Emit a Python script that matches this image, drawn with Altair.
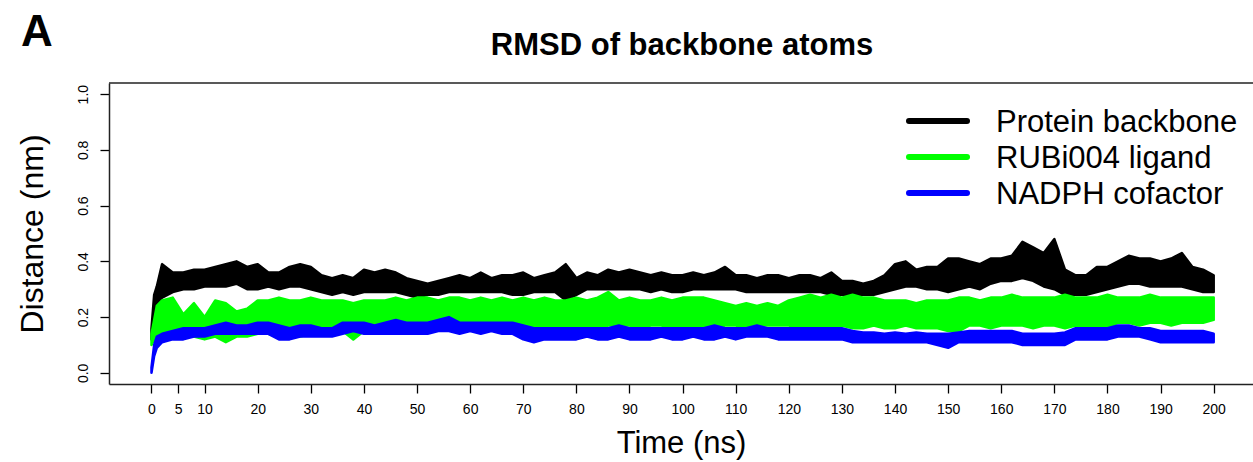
import altair as alt
import pandas as pd

# ---- data (envelope of each noisy trace) ----
times = [0, 0.5, 1] + list(range(2, 201, 2))

protein_lo = [0.12, 0.20, 0.25,
    0.27, 0.29, 0.30, 0.30, 0.31, 0.31, 0.31, 0.32, 0.30, 0.30,
    0.31, 0.30, 0.31, 0.31, 0.30, 0.29, 0.28, 0.29, 0.28, 0.29,
    0.29, 0.29, 0.29, 0.28, 0.27, 0.28, 0.28, 0.29, 0.29, 0.29,
    0.29, 0.29, 0.29, 0.28, 0.28, 0.29, 0.29, 0.29, 0.26, 0.28,
    0.30, 0.30, 0.30, 0.30, 0.30, 0.30, 0.29, 0.30, 0.29, 0.29,
    0.30, 0.30, 0.30, 0.30, 0.30, 0.29, 0.29, 0.29, 0.29, 0.29,
    0.29, 0.29, 0.29, 0.28, 0.28, 0.27, 0.28, 0.28, 0.29, 0.30,
    0.31, 0.31, 0.30, 0.30, 0.29, 0.30, 0.31, 0.30, 0.32, 0.33,
    0.33, 0.34, 0.33, 0.31, 0.30, 0.28, 0.28, 0.28, 0.29, 0.30,
    0.31, 0.32, 0.32, 0.31, 0.31, 0.31, 0.31, 0.30, 0.29, 0.29]
protein_hi = [0.16, 0.28, 0.31,
    0.39, 0.36, 0.36, 0.37, 0.37, 0.38, 0.39, 0.40, 0.38, 0.39,
    0.36, 0.36, 0.38, 0.39, 0.38, 0.35, 0.34, 0.35, 0.34, 0.37,
    0.36, 0.37, 0.36, 0.34, 0.33, 0.32, 0.33, 0.34, 0.35, 0.34,
    0.36, 0.34, 0.35, 0.35, 0.36, 0.34, 0.35, 0.36, 0.39, 0.34,
    0.36, 0.35, 0.37, 0.36, 0.37, 0.36, 0.35, 0.36, 0.35, 0.35,
    0.36, 0.35, 0.36, 0.38, 0.35, 0.35, 0.34, 0.35, 0.35, 0.34,
    0.35, 0.35, 0.34, 0.36, 0.33, 0.33, 0.32, 0.33, 0.35, 0.39,
    0.40, 0.37, 0.38, 0.38, 0.41, 0.41, 0.40, 0.39, 0.41, 0.41,
    0.42, 0.47, 0.45, 0.43, 0.48, 0.37, 0.35, 0.35, 0.38, 0.38,
    0.40, 0.42, 0.41, 0.41, 0.40, 0.41, 0.43, 0.38, 0.37, 0.35]

ligand_lo = [0.10, 0.12, 0.13,
    0.14, 0.15, 0.13, 0.13, 0.12, 0.13, 0.11, 0.13, 0.13, 0.14,
    0.14, 0.13, 0.14, 0.13, 0.14, 0.14, 0.14, 0.15, 0.12, 0.15,
    0.15, 0.14, 0.15, 0.15, 0.16, 0.16, 0.16, 0.17, 0.16, 0.17,
    0.16, 0.17, 0.16, 0.16, 0.16, 0.15, 0.16, 0.16, 0.13, 0.16,
    0.17, 0.16, 0.17, 0.17, 0.17, 0.16, 0.17, 0.17, 0.16, 0.16,
    0.16, 0.17, 0.16, 0.17, 0.17, 0.16, 0.17, 0.17, 0.17, 0.17,
    0.16, 0.17, 0.16, 0.16, 0.17, 0.16, 0.16, 0.17, 0.16, 0.16,
    0.17, 0.16, 0.16, 0.16, 0.15, 0.15, 0.17, 0.17, 0.16, 0.17,
    0.17, 0.17, 0.16, 0.17, 0.17, 0.16, 0.17, 0.16, 0.16, 0.16,
    0.18, 0.18, 0.17, 0.18, 0.18, 0.17, 0.18, 0.18, 0.18, 0.19]
ligand_hi = [0.14, 0.19, 0.24,
    0.26, 0.27, 0.21, 0.25, 0.20, 0.26, 0.25, 0.22, 0.23, 0.26,
    0.26, 0.27, 0.26, 0.26, 0.27, 0.26, 0.26, 0.26, 0.25, 0.26,
    0.26, 0.26, 0.27, 0.26, 0.27, 0.27, 0.26, 0.27, 0.27, 0.26,
    0.27, 0.26, 0.27, 0.26, 0.27, 0.26, 0.27, 0.26, 0.26, 0.27,
    0.26, 0.27, 0.29, 0.26, 0.27, 0.26, 0.26, 0.27, 0.26, 0.27,
    0.27, 0.27, 0.26, 0.25, 0.24, 0.25, 0.24, 0.25, 0.24, 0.26,
    0.27, 0.28, 0.27, 0.28, 0.27, 0.28, 0.27, 0.27, 0.26, 0.26,
    0.26, 0.25, 0.26, 0.26, 0.26, 0.27, 0.27, 0.26, 0.27, 0.27,
    0.28, 0.27, 0.27, 0.27, 0.27, 0.28, 0.27, 0.27, 0.27, 0.28,
    0.27, 0.27, 0.27, 0.28, 0.27, 0.27, 0.27, 0.27, 0.27, 0.27]

cofactor_lo = [0.00, 0.06, 0.09,
    0.11, 0.12, 0.12, 0.13, 0.13, 0.14, 0.14, 0.14, 0.14, 0.14,
    0.14, 0.12, 0.12, 0.13, 0.13, 0.13, 0.13, 0.14, 0.15, 0.14,
    0.14, 0.14, 0.14, 0.14, 0.14, 0.14, 0.15, 0.15, 0.14, 0.15,
    0.14, 0.15, 0.14, 0.14, 0.12, 0.11, 0.12, 0.12, 0.12, 0.12,
    0.13, 0.12, 0.12, 0.13, 0.12, 0.12, 0.12, 0.13, 0.12, 0.12,
    0.13, 0.12, 0.12, 0.13, 0.12, 0.13, 0.13, 0.13, 0.12, 0.12,
    0.12, 0.12, 0.12, 0.12, 0.12, 0.11, 0.11, 0.11, 0.11, 0.11,
    0.11, 0.11, 0.11, 0.10, 0.09, 0.11, 0.11, 0.11, 0.11, 0.11,
    0.11, 0.10, 0.10, 0.10, 0.10, 0.10, 0.12, 0.12, 0.12, 0.12,
    0.13, 0.13, 0.13, 0.12, 0.11, 0.11, 0.11, 0.11, 0.11, 0.11]
cofactor_hi = [0.02, 0.10, 0.13,
    0.14, 0.15, 0.16, 0.16, 0.16, 0.17, 0.18, 0.17, 0.17, 0.18,
    0.18, 0.17, 0.16, 0.17, 0.17, 0.16, 0.16, 0.18, 0.18, 0.18,
    0.17, 0.18, 0.19, 0.18, 0.18, 0.18, 0.19, 0.20, 0.18, 0.18,
    0.18, 0.18, 0.18, 0.18, 0.17, 0.16, 0.16, 0.16, 0.16, 0.16,
    0.16, 0.16, 0.16, 0.17, 0.16, 0.16, 0.16, 0.16, 0.16, 0.16,
    0.16, 0.16, 0.17, 0.16, 0.16, 0.16, 0.17, 0.16, 0.16, 0.16,
    0.16, 0.16, 0.16, 0.16, 0.16, 0.15, 0.145, 0.145, 0.14, 0.145,
    0.14, 0.145, 0.14, 0.14, 0.14, 0.145, 0.15, 0.15, 0.15, 0.15,
    0.15, 0.14, 0.14, 0.14, 0.14, 0.145, 0.16, 0.16, 0.16, 0.16,
    0.17, 0.17, 0.16, 0.16, 0.15, 0.15, 0.15, 0.15, 0.15, 0.14]

series_names = ["Protein backbone", "RUBi004 ligand", "NADPH cofactor"]
series_colors = ["#000000", "#00ff00", "#0000ff"]
x_ticks = [0, 5, 10] + list(range(20, 201, 10))
y_ticks = [0.0, 0.2, 0.4, 0.6, 0.8, 1.0]

# ---- layout ----
W, H = 1144, 301
FONT = "Liberation Sans"

series_bands = [(protein_lo, protein_hi), (ligand_lo, ligand_hi), (cofactor_lo, cofactor_hi)]

x_scale = alt.Scale(domain=[-8, 207.4], nice=False, zero=False)
y_scale = alt.Scale(domain=[-0.04, 1.04], nice=False, zero=False)

x_axis = alt.Axis(values=x_ticks, title="Time (ns)", labelFontSize=14, labelFont=FONT,
                  labelColor="#000", tickSize=9, tickColor="#000", tickWidth=1.3,
                  domainColor="#222", domainWidth=1.5, grid=False, labelPadding=9,
                  labelFlush=False, labelOverlap=False,
                  titleFont=FONT, titleFontSize=31, titleFontWeight="normal",
                  titleColor="#000", titlePadding=12)
y_axis = alt.Axis(values=y_ticks, format=".1f", title="Distance (nm)", labelFontSize=14,
                  labelFont=FONT, labelColor="#000", labelAngle=270, labelAlign="center",
                  labelBaseline="bottom", labelPadding=10, tickSize=9, tickColor="#000",
                  tickWidth=1.3, domainColor="#222", domainWidth=1.5, grid=False,
                  labelFlush=False, labelOverlap=False,
                  titleFont=FONT, titleFontSize=32, titleFontWeight="normal",
                  titleColor="#000", titleAngle=270, titleAlign="center",
                  titleBaseline="alphabetic", titleX=-67, titleY=H / 2)

layers = []
for i, (name, (lo, hi)) in enumerate(zip(series_names, series_bands)):
    df = pd.DataFrame({"time": times, "lo": lo, "hi": hi})
    layers.append(
        alt.Chart(df).mark_area(color=series_colors[i], stroke=series_colors[i],
                                strokeWidth=2.5, strokeJoin="round", opacity=1)
        .encode(x=alt.X("time:Q", scale=x_scale, axis=x_axis),
                y=alt.Y("lo:Q", scale=y_scale, axis=y_axis),
                y2="hi:Q")
    )

# top border of the box
layers.append(alt.Chart(pd.DataFrame({"k": [0]})).mark_rule(color="#222", strokeWidth=1.5)
              .encode(x=alt.value(0), x2=alt.value(W), y=alt.value(0)))

# legend (drawn by hand, R style)
for i, (name, col) in enumerate(zip(series_names, series_colors)):
    ly = 38 + 36 * i
    ldf = pd.DataFrame({"label": [name]})
    layers.append(alt.Chart(ldf).mark_rule(color=col, strokeWidth=6, strokeCap="round")
                  .encode(x=alt.value(800), x2=alt.value(858), y=alt.value(ly)))
    layers.append(alt.Chart(ldf).mark_text(align="left", baseline="alphabetic", font=FONT,
                                           fontSize=31, color="#000")
                  .encode(text="label:N", x=alt.value(887), y=alt.value(ly + 11)))

# title and panel letter
tdf = pd.DataFrame({"t": ["RMSD of backbone atoms"]})
layers.append(alt.Chart(tdf).mark_text(align="center", baseline="alphabetic", font=FONT,
                                       fontSize=31, fontWeight="bold", color="#000")
              .encode(text="t:N", x=alt.value(573), y=alt.value(-28)))
adf = pd.DataFrame({"t": ["A"]})
layers.append(alt.Chart(adf).mark_text(align="left", baseline="alphabetic", font=FONT,
                                       fontSize=44, fontWeight="bold", color="#000")
              .encode(text="t:N", x=alt.value(-88), y=alt.value(-37)))

chart = alt.layer(*layers).properties(
    width=W, height=H,
    autosize=alt.AutoSizeParams(type="none"),
    padding={"left": 109, "top": 83, "right": 0, "bottom": 78},
    background="white",
).configure_view(stroke=None)

chart.save("out.html", embed_options={"renderer": "svg", "actions": False})
